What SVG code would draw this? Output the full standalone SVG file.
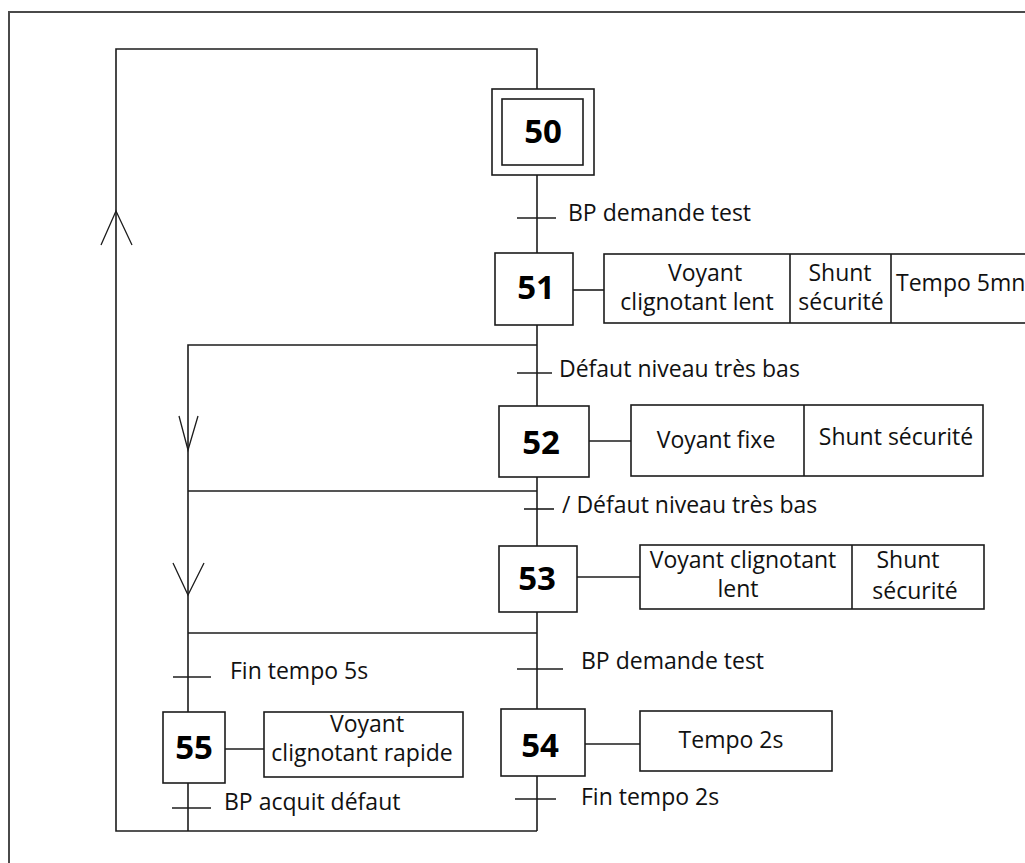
<svg xmlns="http://www.w3.org/2000/svg" width="1025" height="863" viewBox="0 0 1025 863">
  <style>
    .frame { fill: none; stroke: #4a4a4a; stroke-width: 2; }
    .ln { fill: none; stroke: #1c1c1c; stroke-width: 1.6; }
    .arr { fill: none; stroke: #1c1c1c; stroke-width: 1.3; }
    .box { fill: #ffffff; stroke: #1c1c1c; stroke-width: 1.6; }
    .t { font-family: "Open Sans", "DejaVu Sans", sans-serif; font-size: 23px; fill: #111111; }
    .c { text-anchor: middle; }
    .num { font-family: "Open Sans", "DejaVu Sans", sans-serif; font-size: 33px; font-weight: bold; fill: #000000; text-anchor: middle; }
  </style>

  <rect width="1025" height="863" fill="#ffffff"/>
  <!-- page border -->
  <path class="frame" d="M9,863 V12 H1025"/>

  <g id="connectors">
    <!-- return loop from 54/55 back to 50 -->
    <path class="ln" d="M537,89 V49 H116 V831 H537"/>
    <!-- main chain -->
    <path class="ln" d="M537,175 V253"/>
    <path class="ln" d="M537,325 V406"/>
    <path class="ln" d="M537,477 V546"/>
    <path class="ln" d="M537,612 V709"/>
    <path class="ln" d="M537,776 V831"/>
    <!-- side branch towards 55 -->
    <path class="ln" d="M537,345 H188 V712"/>
    <path class="ln" d="M188,491 H537"/>
    <path class="ln" d="M188,633 H537"/>
    <path class="ln" d="M188,783 V831"/>
    <!-- transition bars -->
    <path class="ln" d="M517,218 H556"/>
    <path class="ln" d="M517,373 H552"/>
    <path class="ln" d="M524,509 H554"/>
    <path class="ln" d="M517,669 H563"/>
    <path class="ln" d="M515,799 H556"/>
    <path class="ln" d="M173,677 H211"/>
    <path class="ln" d="M172,808 H211"/>
    <!-- direction arrows -->
    <path class="arr" d="M101,245 L116,211 L132,245"/>
    <path class="arr" d="M179,416 L188,450 L198,416"/>
    <path class="arr" d="M173,563 L188,595 L204,563"/>
    <!-- step to action links -->
    <path class="ln" d="M573,290 H604"/>
    <path class="ln" d="M589,441 H631"/>
    <path class="ln" d="M577,577 H640"/>
    <path class="ln" d="M585,744 H640"/>
    <path class="ln" d="M225,749 H264"/>
  </g>

  <g id="step50">
    <rect class="box" x="492" y="89" width="102" height="86"/>
    <rect class="box" x="502" y="99" width="81" height="66"/>
    <text class="num" x="543" y="143">50</text>
  </g>

  <g id="step51">
    <rect class="box" x="495" y="253" width="78" height="72"/>
    <text class="num" x="536" y="299">51</text>
    <rect class="box" x="604" y="254" width="440" height="69"/>
    <path class="ln" d="M790,254 V323 M891,254 V323"/>
    <text class="t c" x="705" y="281">Voyant</text>
    <text class="t c" x="697" y="310">clignotant lent</text>
    <text class="t c" x="840" y="281">Shunt</text>
    <text class="t c" x="841" y="310">sécurité</text>
    <text class="t" x="896" y="291">Tempo 5mn</text>
  </g>

  <g id="step52">
    <rect class="box" x="499" y="406" width="90" height="71"/>
    <text class="num" x="541" y="454">52</text>
    <rect class="box" x="631" y="405" width="352" height="71"/>
    <path class="ln" d="M804,405 V476"/>
    <text class="t c" x="716" y="448">Voyant fixe</text>
    <text class="t c" x="896" y="445">Shunt sécurité</text>
  </g>

  <g id="step53">
    <rect class="box" x="499" y="546" width="78" height="66"/>
    <text class="num" x="537" y="590">53</text>
    <rect class="box" x="640" y="545" width="344" height="64"/>
    <path class="ln" d="M852,545 V609"/>
    <text class="t c" x="743" y="568">Voyant clignotant</text>
    <text class="t c" x="738" y="597">lent</text>
    <text class="t c" x="908" y="568">Shunt</text>
    <text class="t c" x="915" y="599">sécurité</text>
  </g>

  <g id="step54">
    <rect class="box" x="501" y="709" width="84" height="67"/>
    <text class="num" x="540" y="757">54</text>
    <rect class="box" x="640" y="711" width="192" height="60"/>
    <text class="t c" x="731" y="748">Tempo 2s</text>
  </g>

  <g id="step55">
    <rect class="box" x="163" y="712" width="62" height="71"/>
    <text class="num" x="194" y="759">55</text>
    <rect class="box" x="264" y="712" width="199" height="65"/>
    <text class="t c" x="367" y="732">Voyant</text>
    <text class="t c" x="362" y="761">clignotant rapide</text>
  </g>

  <g id="transitions">
    <text class="t" x="568" y="221">BP demande test</text>
    <text class="t" x="559" y="377">Défaut niveau très bas</text>
    <text class="t" x="562" y="513">/ Défaut niveau très bas</text>
    <text class="t" x="581" y="669">BP demande test</text>
    <text class="t" x="581" y="805">Fin tempo 2s</text>
    <text class="t" x="230" y="679">Fin tempo 5s</text>
    <text class="t" x="224" y="810">BP acquit défaut</text>
  </g>
</svg>
